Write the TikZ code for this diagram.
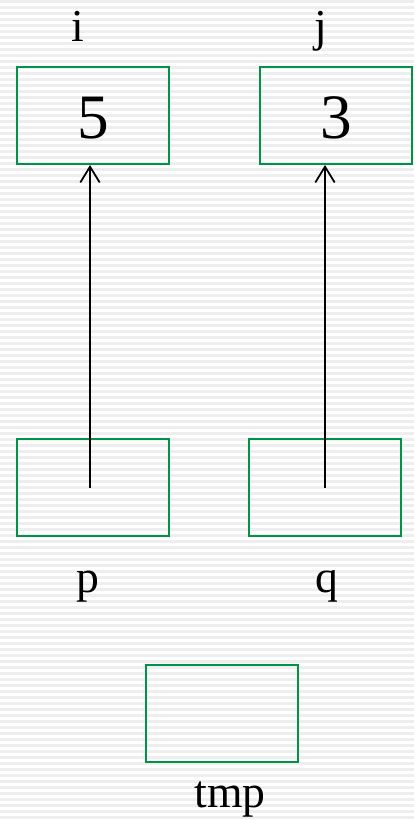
\documentclass[tikz,border=0pt]{standalone}
\usepackage{fontspec}
\setmainfont{Liberation Serif}
\usetikzlibrary{arrows.meta}
\definecolor{boxgreen}{RGB}{0,146,70}
\definecolor{stripe}{RGB}{238,238,238}
\begin{document}
\begin{tikzpicture}[x=0.02cm, y=-0.02cm,
  cell/.style={draw=boxgreen, line width=1.1pt, minimum width=3.04cm,
               minimum height=1.94cm, inner sep=0pt},
  val/.style={font=\fontsize{36}{40}\selectfont, anchor=base},
  lbl/.style={font=\fontsize{26}{30}\selectfont, anchor=base},
  ptr/.style={line width=1pt, -{Straight Barb[length=9pt, width=11pt]}},
]
  % striped page
  \useasboundingbox (0,0) rectangle (414,820);
  \fill[white] (0,0) rectangle (414,820);
  \foreach \k in {0,...,136}
    \fill[stripe] (0,6*\k) rectangle (414,6*\k+3);

  % variables i and j
  \node[cell] (i) at (93,115.5) {};
  \node[cell] (j) at (336,115.5) {};
  \node[val] at (93,139) {5};
  \node[val] at (336,139) {3};
  \node[lbl] at (78,42) {i};
  \node[lbl] at (321,42) {j};

  % pointers p and q
  \node[cell] (p) at (93,487.5) {};
  \node[cell] (q) at (325,487.5) {};
  \node[lbl] at (88,592) {p};
  \node[lbl] at (327,592) {q};

  \node[cell] (tmp) at (222,713.5) {};
  \node[lbl] at (230,807) {tmp};

  \draw[ptr] ([xshift=-0.06cm]p.center) -- ([xshift=-0.06cm]i.south);
  \draw[ptr] (q.center) -- (q.center |- j.south);
\end{tikzpicture}
\end{document}
